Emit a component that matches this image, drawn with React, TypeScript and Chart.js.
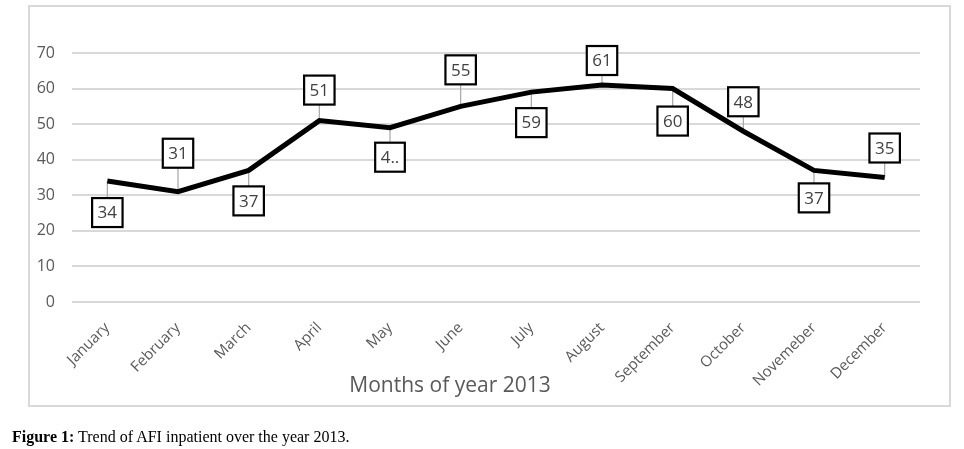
import React, { useEffect, useRef } from "react";
import { Chart, registerables } from "chart.js";

Chart.register(...registerables);

const months = [
  "January", "February", "March", "April", "May", "June",
  "July", "August", "September", "October", "Novemeber", "December",
];
const inpatients = [34, 31, 37, 51, 49, 55, 59, 61, 60, 48, 37, 35];
const pointLabels = ["34", "31", "37", "51", "4..", "55", "59", "61", "60", "48", "37", "35"];
// negative = box above the point, positive = below (gap in px)
const labelGaps = [17, -24, 16, -16, 15, -22, 16, -10, 18, -15, 13, -15];
const yTicks = [0, 10, 20, 30, 40, 50, 60, 70];

const FONT = "'Open Sans', sans-serif";

const framePlugin = {
  id: "frame",
  beforeDraw(chart: any) {
    const ctx = chart.ctx;
    ctx.save();
    ctx.fillStyle = "#ffffff";
    ctx.fillRect(0, 0, chart.width, chart.height);
    ctx.strokeStyle = "#d9d9d9";
    ctx.lineWidth = 2;
    ctx.strokeRect(29, 6, 921, 400);
    ctx.restore();
  },
};

const titlePlugin = {
  id: "xtitle",
  afterDraw(chart: any) {
    const ctx = chart.ctx;
    ctx.save();
    ctx.font = `21px ${FONT}`;
    ctx.fillStyle = "#595959";
    ctx.textAlign = "center";
    ctx.textBaseline = "middle";
    ctx.fillText("Months of year 2013", 450, 386);
    ctx.restore();
  },
};

function boxFor(chart: any, i: number) {
  const pt = chart.getDatasetMeta(0).data[i];
  const ctx = chart.ctx;
  ctx.save();
  ctx.font = `17px ${FONT}`;
  const w = ctx.measureText(pointLabels[i]).width + 11;
  ctx.restore();
  const h = 29;
  const gap = labelGaps[i];
  const top = gap < 0 ? pt.y + gap - h : pt.y + gap;
  return { x: pt.x, y: pt.y, left: pt.x - w / 2, top, w, h };
}

const labelPlugin = {
  id: "pointBoxes",
  beforeDatasetsDraw(chart: any) {
    const ctx = chart.ctx;
    ctx.save();
    ctx.strokeStyle = "#a6a6a6";
    ctx.lineWidth = 1.2;
    for (let i = 0; i < inpatients.length; i++) {
      const b = boxFor(chart, i);
      const edge = labelGaps[i] < 0 ? b.top + b.h : b.top;
      ctx.beginPath();
      ctx.moveTo(b.x, b.y);
      ctx.lineTo(b.x, edge);
      ctx.stroke();
    }
    ctx.restore();
  },
  afterDatasetsDraw(chart: any) {
    const ctx = chart.ctx;
    ctx.save();
    for (let i = 0; i < inpatients.length; i++) {
      const b = boxFor(chart, i);
      ctx.fillStyle = "#ffffff";
      ctx.fillRect(b.left, b.top, b.w, b.h);
      ctx.strokeStyle = "#000000";
      ctx.lineWidth = 2.2;
      ctx.strokeRect(b.left, b.top, b.w, b.h);
      ctx.fillStyle = "#404040";
      ctx.font = `17px ${FONT}`;
      ctx.textAlign = "center";
      ctx.textBaseline = "middle";
      ctx.fillText(pointLabels[i], b.x, b.top + b.h / 2 + 1);
    }
    ctx.restore();
  },
};

export default function App() {
  const ref = useRef<HTMLCanvasElement | null>(null);

  useEffect(() => {
    if (!ref.current) return;
    const chart = new Chart(ref.current, {
      type: "line",
      data: {
        labels: months,
        datasets: [
          {
            data: inpatients,
            borderColor: "#000000",
            borderWidth: 5,
            pointRadius: 0,
            tension: 0,
            fill: false,
          },
        ],
      },
      options: {
        animation: false,
        responsive: false,
        maintainAspectRatio: false,
        layout: { padding: { top: 53, left: 0, right: 44, bottom: 0 } },
        plugins: {
          legend: { display: false },
          tooltip: { enabled: false },
          title: { display: false },
        },
        scales: {
          x: {
            type: "category",
            offset: true,
            grid: { display: false },
            border: { display: false },
            ticks: {
              minRotation: 45,
              maxRotation: 45,
              autoSkip: false,
              padding: 9,
              color: "#595959",
              font: { family: FONT, size: 15 },
            },
            afterFit(scale: any) {
              scale.height = 147;
            },
          },
          y: {
            min: 0,
            max: 70,
            afterBuildTicks(scale: any) {
              scale.ticks = yTicks.map((v) => ({ value: v }));
            },
            grid: { color: "#d9d9d9", lineWidth: 2, drawTicks: false },
            border: { display: false },
            ticks: {
              padding: 17,
              color: "#595959",
              font: { family: FONT, size: 16 },
            },
            afterFit(scale: any) {
              scale.width = 72;
            },
          },
        },
      },
      plugins: [framePlugin, labelPlugin, titlePlugin],
    });
    return () => chart.destroy();
  }, []);

  return (
    <div style={{ position: "fixed", left: 0, top: 0, width: 964, height: 449, background: "#fff" }}>
      <canvas ref={ref} width={964} height={449} style={{ position: "absolute", left: 0, top: 0, width: 964, height: 449 }} />
      <div
        style={{
          position: "absolute",
          left: 12,
          top: 427,
          fontFamily: "'Liberation Serif', 'DejaVu Serif', serif",
          fontSize: 16,
          color: "#000",
          whiteSpace: "nowrap",
          lineHeight: "20px",
        }}
      >
        <b>Figure 1:</b> Trend of AFI inpatient over the year 2013.
      </div>
    </div>
  );
}
